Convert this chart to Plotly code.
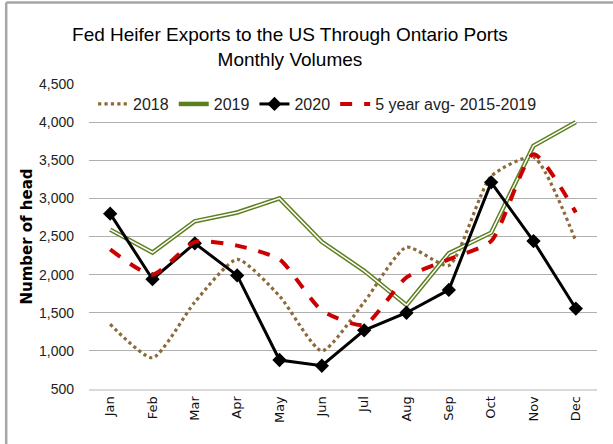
import plotly.graph_objects as go

months = ["Jan", "Feb", "Mar", "Apr", "May", "Jun", "Jul", "Aug", "Sep", "Oct", "Nov", "Dec"]
y2018 = [1350, 910, 1640, 2200, 1720, 1000, 1640, 2360, 2120, 3290, 3540, 2440]
y2019 = [2590, 2290, 2700, 2815, 3000, 2430, 2050, 1600, 2280, 2550, 3690, 4000]
y2020 = [2800, 1940, 2410, 1990, 880, 805, 1270, 1500, 1800, 3210, 2440, 1555]
avg5 = [2330, 2000, 2430, 2380, 2200, 1530, 1340, 1965, 2200, 2440, 3580, 2815]

title_text = "Fed Heifer Exports to the US Through Ontario Ports<br>Monthly Volumes"
ytitle = "Number of head"
ytickvals = [500, 1000, 1500, 2000, 2500, 3000, 3500, 4000, 4500]
yticktext = ["500", "1,000", "1,500", "2,000", "2,500", "3,000", "3,500", "4,000", "4,500"]

narrow = "Liberation Sans Narrow, Arial Narrow, sans-serif"
wide = "DejaVu Sans, Verdana, sans-serif"

fig = go.Figure()
fig.add_trace(go.Scatter(x=months, y=y2018, name="2018", mode="lines",
                         line=dict(color="#8c6a3a", width=3.2, dash="dot", shape="spline", smoothing=0.6)))
fig.add_trace(go.Scatter(x=months, y=y2019, name="2019", mode="lines",
                         line=dict(color="#5d7f1e", width=4.5)))
fig.add_trace(go.Scatter(x=months, y=y2019, name="2019 inner", mode="lines", showlegend=False,
                         hoverinfo="skip", line=dict(color="white", width=1.5)))
fig.add_trace(go.Scatter(x=months, y=y2020, name="2020", mode="lines+markers",
                         line=dict(color="black", width=3),
                         marker=dict(symbol="diamond", size=11, color="black")))
fig.add_trace(go.Scatter(x=months, y=avg5, name="5 year avg- 2015-2019", mode="lines",
                         line=dict(color="#cc0000", width=4, dash="dash", shape="spline", smoothing=0.6)))

fig.update_layout(
    width=613, height=444,
    margin=dict(l=89, r=16, t=84, b=55),
    paper_bgcolor="white", plot_bgcolor="white",
    title=dict(text=title_text, x=0.473, xanchor="center", y=0.908, yanchor="middle",
               font=dict(family=narrow, size=19, color="black")),
    showlegend=True,
    legend=dict(orientation="h", x=0.008, y=0.99, xanchor="left", yanchor="top",
                bgcolor="rgba(255,255,255,0)", font=dict(family=narrow, size=16, color="#222"),
                tracegroupgap=0),
    font=dict(family=narrow, color="#222"),
)
fig.update_xaxes(type="category", tickangle=-90, showgrid=False, ticks="",
                 showline=True, linecolor="#d9d9d9", linewidth=2,
                 tickfont=dict(family=wide, size=13, color="#111"),
                 range=[-0.5, 11.5])
fig.update_yaxes(range=[500, 4500], tickvals=ytickvals, ticktext=yticktext,
                 showgrid=True, gridcolor="#b0b0b0", gridwidth=1.3, zeroline=False,
                 showline=False, ticks="", ticklabelstandoff=14,
                 tickfont=dict(family=narrow, size=14, color="#222"),
                 title=dict(text="<b>" + ytitle + "</b>", standoff=2,
                            font=dict(family=wide, size=15, color="black")))
# chart frame: left and top edges only (as in the reference)
fig.add_shape(type="line", xref="paper", yref="paper", x0=-0.163, x1=-0.163, y0=-0.2, y1=1.267,
              line=dict(color="#a6a6a6", width=2.5))
fig.add_shape(type="line", xref="paper", yref="paper", x0=-0.163, x1=1.05, y0=1.267, y1=1.267,
              line=dict(color="#a6a6a6", width=2.5))

fig.write_html("out.html")
